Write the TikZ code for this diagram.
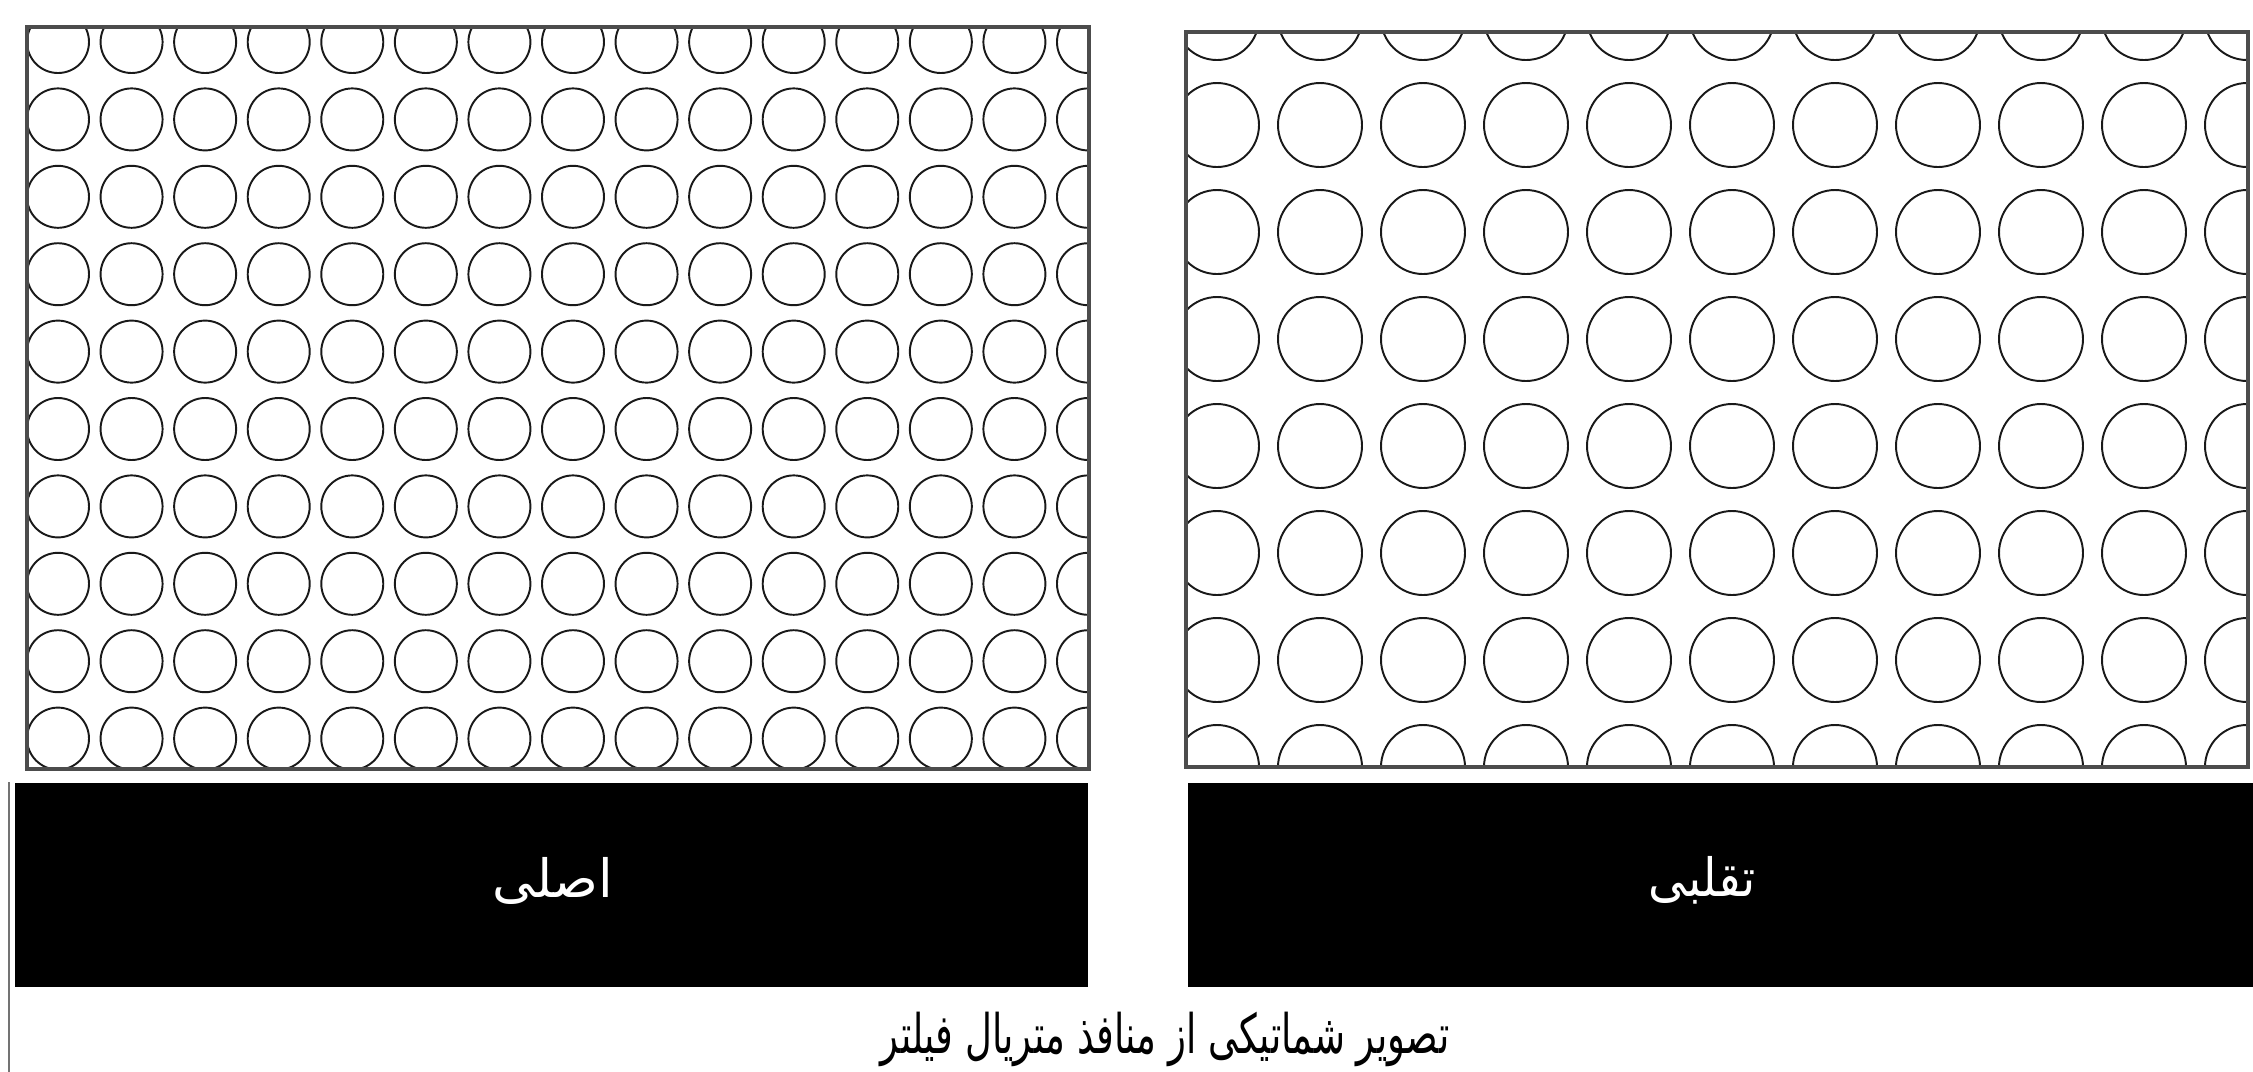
\documentclass[tikz,border=0pt]{standalone}
\usepackage{fontspec}
\newfontfamily\farsifont[Script=Arabic]{DejaVu Sans}
\TeXXeTstate=1
\begin{document}
\begin{tikzpicture}[x=0.01cm, y=-0.01cm,
  frame/.style={draw=black!70, line width=0.9pt},
  pore/.style={draw=black!90, line width=0.55pt},
  tag/.style={text=white, inner sep=0pt, font=\farsifont\fontsize{15}{18}\selectfont},
  caption/.style={text=black, inner sep=0pt, font=\farsifont\fontsize{15.5}{18}\selectfont}]
  \useasboundingbox (0,0) rectangle (2253,1072);
  % original filter: small pores
  \begin{scope}
    \clip (27,27) rectangle (1089,769);
    \foreach \i in {0,...,14}
      \foreach \j in {0,...,9}
        \draw[pore] (58+73.57*\i, 42+77.4*\j) circle[radius=31];
  \end{scope}
  \draw[frame] (27,27) rectangle (1089,769);
  % fake filter: large pores
  \begin{scope}
    \clip (1186,32) rectangle (2248,767);
    \foreach \i in {0,...,10}
      \foreach \j in {0,...,7}
        \draw[pore] (1217+103*\i, 18+107*\j) circle[radius=42];
  \end{scope}
  \draw[frame] (1186,32) rectangle (2248,767);
  % labels
  \fill[black] (15,783) rectangle (1088,987);
  \fill[black] (1188,783) rectangle (2253,987);
  \node[tag] (orig) at (553,881) {\beginR اصلی\endR};
  \node[tag] (fake) at (1702,880) {\scalebox{0.9}[1]{\beginR تقلبی\endR}};
  \draw[black!55, line width=0.6pt] (9,782) -- (9,1072);
  \node[caption, anchor=base] (title) at (1165,1053)
      {\scalebox{0.68}[1]{\beginR تصویر شماتیکی از منافذ متریال فیلتر\endR}};
\end{tikzpicture}
\end{document}
